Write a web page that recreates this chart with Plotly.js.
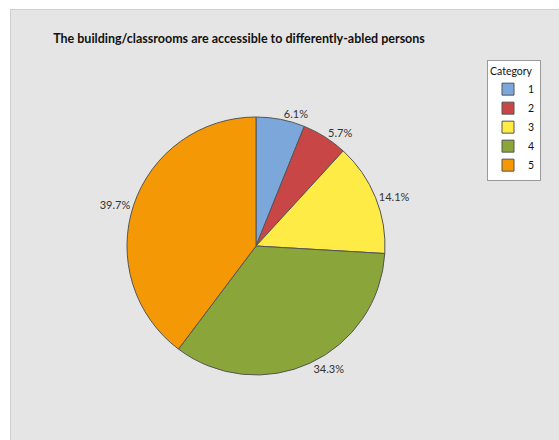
<!DOCTYPE html>
<html>
<head>
<meta charset="utf-8">
<script src="https://cdn.plot.ly/plotly-3.0.1.min.js"></script>
<style>
  html, body { margin: 0; padding: 0; background: #ffffff; }
  #frame { position: absolute; left: 10px; top: 9px; width: 549px; height: 431px;
           border-left: 1px solid #cfcfcf; border-top: 1px solid #cfcfcf; background: #e5e5e5; }
  #chart { width: 549px; height: 431px; }
</style>
</head>
<body>
<div id="frame"><div id="chart"></div></div>
<script>
const categories = ["1", "2", "3", "4", "5"];
const percents = [6.1, 5.7, 14.1, 34.3, 39.7];
const sliceColors = ["#7BA7DA", "#C94646", "#FFEB45", "#8AA53A", "#F59806"];
const chartTitle = "The building/classrooms are accessible to differently-abled persons";

const W = 549, H = 431;
const cx = 245, cy = 236, r = 129;
const FONT = "Lato, Noto Sans, sans-serif";

const trace = {
  type: "pie",
  labels: categories,
  values: percents,
  sort: false,
  direction: "clockwise",
  rotation: 0,
  marker: { colors: sliceColors, line: { color: "#555555", width: 1 } },
  texttemplate: "%{value:.1f}%",
  textposition: "outside",
  outsidetextfont: { family: FONT, size: 11, color: "#333333" },
  automargin: false,
  hoverinfo: "label+percent",
  domain: {
    x: [(cx - r) / W, (cx + r) / W],
    y: [(H - cy - r) / H, (H - cy + r) / H]
  }
};

const layout = {
  width: W, height: H,
  margin: { l: 0, r: 0, t: 0, b: 0 },
  paper_bgcolor: "rgba(0,0,0,0)",
  plot_bgcolor: "rgba(0,0,0,0)",
  font: { family: FONT, color: "#222222" },
  title: {
    text: "<b>" + chartTitle + "</b>",
    font: { family: FONT, size: 12.5, color: "#111111" },
    xref: "paper", x: 228 / W, xanchor: "center",
    yref: "container", y: 1 - 29 / H, yanchor: "middle"
  },
  showlegend: true,
  legend: {
    title: { text: "Category", side: "top", font: { family: FONT, size: 10.5, color: "#111111" } },
    x: 476 / W, xanchor: "left",
    y: 1 - 50 / H, yanchor: "top",
    bgcolor: "#ffffff",
    bordercolor: "#9a9a9a",
    borderwidth: 1,
    font: { family: FONT, size: 10.5, color: "#111111" },
    itemwidth: 30,
    tracegroupgap: 0
  }
};

Plotly.newPlot("chart", [trace], layout, { displayModeBar: false, staticPlot: true });
</script>
</body>
</html>
